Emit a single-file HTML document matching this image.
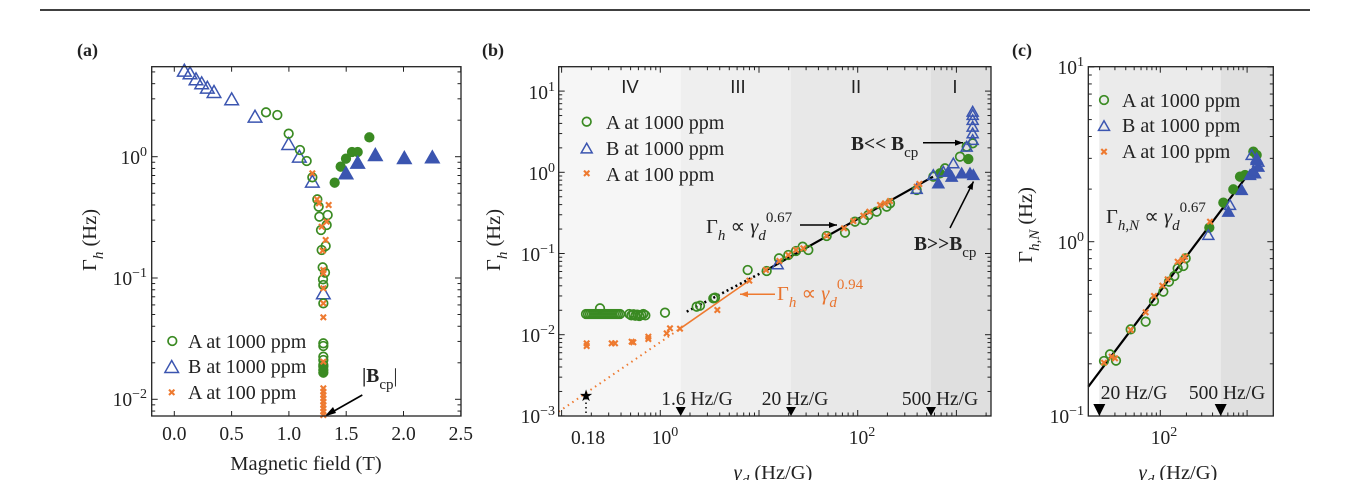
<!DOCTYPE html>
<html><head><meta charset="utf-8"><style>
html,body{margin:0;padding:0;background:#fff;}
svg{display:block;font-family:"Liberation Serif",serif;}
</style></head><body>
<svg id="s" width="1350" height="480" viewBox="0 0 1350 480" xmlns="http://www.w3.org/2000/svg">
<line x1="40" y1="10" x2="1310" y2="10" stroke="#000" stroke-width="1.5"/>
<rect x="558.7" y="66.7" width="122" height="349.3" fill="#f6f6f6"/>
<rect x="680.7" y="66.7" width="110.3" height="349.3" fill="#efefef"/>
<rect x="791" y="66.7" width="140" height="349.3" fill="#e8e8e8"/>
<rect x="931" y="66.7" width="60" height="349.3" fill="#dfdfdf"/>
<rect x="1099.3" y="66.7" width="121.4" height="349.3" fill="#ebebeb"/>
<rect x="1220.7" y="66.7" width="52.6" height="349.3" fill="#e0e0e0"/>
<g id="ticks"></g>
<g id="lines"></g>
<g id="marks"></g>
<rect x="151.7" y="66.7" width="309.3" height="349.3" fill="none" stroke="#222" stroke-width="1.3"/>
<rect x="558.7" y="66.7" width="432.3" height="349.3" fill="none" stroke="#222" stroke-width="1.3"/>
<rect x="1088.3" y="66.7" width="185" height="349.3" fill="none" stroke="#222" stroke-width="1.3"/>
<g fill="#222">
<text x="77" y="56" font-weight="bold" font-size="18">(a)</text>
<text x="482" y="56" font-weight="bold" font-size="18">(b)</text>
<text x="1012" y="56" font-weight="bold" font-size="18">(c)</text>
<g text-anchor="middle" font-size="19.5">
<text x="174.3" y="440">0.0</text><text x="231.6" y="440">0.5</text><text x="288.9" y="440">1.0</text>
<text x="346.2" y="440">1.5</text><text x="403.5" y="440">2.0</text><text x="460.8" y="440">2.5</text>
</g>
<g text-anchor="end" font-size="19.5">
<text x="147" y="164">10<tspan dy="-8" font-size="14">0</tspan></text>
<text x="147" y="285">10<tspan dy="-8" font-size="14">−1</tspan></text>
<text x="147" y="406">10<tspan dy="-8" font-size="14">−2</tspan></text>
</g>
<text x="306" y="470" text-anchor="middle" font-size="20.5">Magnetic field (T)</text>
<text transform="translate(96,240) rotate(-90)" text-anchor="middle" font-size="20.5">Γ<tspan dy="7" font-size="15" font-style="italic">h</tspan><tspan dy="-7"> (Hz)</tspan></text>
<g font-size="20"><text x="188" y="348">A at 1000 ppm</text><text x="188" y="373">B at 1000 ppm</text><text x="188" y="399">A at 100 ppm</text></g>
<text x="362" y="382" font-size="19.5"><tspan font-weight="bold">|B</tspan><tspan dy="7" font-size="15">cp</tspan><tspan dy="-7">|</tspan></text>
<g text-anchor="end" font-size="19.5">
<text x="555" y="99">10<tspan dy="-8" font-size="14">1</tspan></text>
<text x="555" y="180">10<tspan dy="-8" font-size="14">0</tspan></text>
<text x="555" y="261">10<tspan dy="-8" font-size="14">−1</tspan></text>
<text x="555" y="342">10<tspan dy="-8" font-size="14">−2</tspan></text>
<text x="555" y="423">10<tspan dy="-8" font-size="14">−3</tspan></text>
</g>
<g text-anchor="middle" font-size="19.5">
<text x="588" y="444">0.18</text>
<text x="665" y="444">10<tspan dy="-8" font-size="14">0</tspan></text>
<text x="862" y="444">10<tspan dy="-8" font-size="14">2</tspan></text>
</g>
<text x="773" y="479" text-anchor="middle" font-size="20.5"><tspan font-style="italic">γ</tspan><tspan dy="6" font-size="15" font-style="italic">d</tspan><tspan dy="-6"> (Hz/G)</tspan></text>
<text transform="translate(500,240) rotate(-90)" text-anchor="middle" font-size="20.5">Γ<tspan dy="7" font-size="15" font-style="italic">h</tspan><tspan dy="-7"> (Hz)</tspan></text>
<g font-family="Liberation Sans, sans-serif" font-size="18.5" text-anchor="middle">
<text x="630" y="93">IV</text><text x="738" y="93">III</text><text x="856" y="93">II</text><text x="955" y="93">I</text></g>
<g font-size="20"><text x="606" y="129">A at 1000 ppm</text><text x="606" y="155">B at 1000 ppm</text><text x="606" y="181">A at 100 ppm</text></g>
<g font-size="19.5" text-anchor="middle"><text x="697" y="405">1.6 Hz/G</text><text x="795" y="405">20 Hz/G</text><text x="940" y="405">500 Hz/G</text></g>
<text x="706" y="233" font-size="20.5">Γ<tspan dy="7" font-size="15" font-style="italic">h</tspan><tspan dy="-7"> ∝ </tspan><tspan font-style="italic">γ</tspan><tspan dy="7" font-size="15" font-style="italic">d</tspan><tspan dy="-18" font-size="15">0.67</tspan></text>
<text x="777" y="300" font-size="20.5" fill="#e8742f">Γ<tspan dy="7" font-size="15" font-style="italic">h</tspan><tspan dy="-7"> ∝ </tspan><tspan font-style="italic">γ</tspan><tspan dy="7" font-size="15" font-style="italic">d</tspan><tspan dy="-18" font-size="15">0.94</tspan></text>
<text x="851" y="150" font-size="19.5"><tspan font-weight="bold">B&lt;&lt; B</tspan><tspan dy="7" font-size="15">cp</tspan></text>
<text x="914" y="250" font-size="19.5"><tspan font-weight="bold">B&gt;&gt;B</tspan><tspan dy="7" font-size="15">cp</tspan></text>
<g text-anchor="end" font-size="19.5">
<text x="1084" y="74">10<tspan dy="-8" font-size="14">1</tspan></text>
<text x="1084" y="249">10<tspan dy="-8" font-size="14">0</tspan></text>
<text x="1084" y="423">10<tspan dy="-8" font-size="14">−1</tspan></text>
</g>
<text x="1164" y="444" text-anchor="middle" font-size="19.5">10<tspan dy="-8" font-size="14">2</tspan></text>
<text x="1178" y="479" text-anchor="middle" font-size="20.5"><tspan font-style="italic">γ</tspan><tspan dy="6" font-size="15" font-style="italic">d</tspan><tspan dy="-6"> (Hz/G)</tspan></text>
<text transform="translate(1032,225) rotate(-90)" text-anchor="middle" font-size="20.5">Γ<tspan dy="7" font-size="15" font-style="italic">h,N</tspan><tspan dy="-7"> (Hz)</tspan></text>
<g font-size="20"><text x="1122" y="107">A at 1000 ppm</text><text x="1122" y="132">B at 1000 ppm</text><text x="1122" y="158">A at 100 ppm</text></g>
<text x="1106" y="223" font-size="20.5">Γ<tspan dy="7" font-size="15" font-style="italic">h,N</tspan><tspan dy="-7"> ∝ </tspan><tspan font-style="italic">γ</tspan><tspan dy="7" font-size="15" font-style="italic">d</tspan><tspan dy="-18" font-size="15">0.67</tspan></text>
<g font-size="19.5" text-anchor="middle"><text x="1134" y="399">20 Hz/G</text><text x="1227" y="399">500 Hz/G</text></g>
</g>
</svg>
<script>
var NS="http://www.w3.org/2000/svg";
var G="#3a8a22",B="#3b55b0",O="#ee7a30";
function el(p,t,a){var e=document.createElementNS(NS,t);for(var k in a)e.setAttribute(k,a[k]);document.getElementById(p).appendChild(e);return e;}
function circ(x,y,f,r){r=r||4.3;el("marks","circle",{cx:x,cy:y,r:r,fill:f?G:"none",stroke:G,"stroke-width":1.7});}
function tri(x,y,f,s){s=s||6.8;el("marks","polygon",{points:(x-s)+","+(y+s*0.8)+" "+(x+s)+","+(y+s*0.8)+" "+x+","+(y-s*0.95),fill:f?B:"none",stroke:B,"stroke-width":1.5});}
function crs(x,y){var s=2.7;el("marks","path",{d:"M"+(x-s)+" "+(y-s)+"L"+(x+s)+" "+(y+s)+"M"+(x-s)+" "+(y+s)+"L"+(x+s)+" "+(y-s),stroke:O,"stroke-width":2.1});}
function ln(a){el("lines","line",a);}
function tk(x1,y1,x2,y2){el("ticks","line",{x1:x1,y1:y1,x2:x2,y2:y2,stroke:"#222","stroke-width":1});}
function Z(ox,oy,arr,fn,f){arr.forEach(function(p){fn(p[0]/3+ox,p[1]/3+oy,f);});}
[174.3,231.6,288.9,346.2,403.5,460.8].forEach(function(x){tk(x,416,x,411);tk(x,66.7,x,71.7);});
function logticks(L,R,y0,dec,nmin,nmax){for(var d=nmin;d<=nmax;d++)for(var m=1;m<10;m++){var y=y0-(d+Math.log10(m))*dec;if(y<66.5||y>416.2)continue;var l=m==1?6:3.5;tk(L,y,L+l,y);tk(R,y,R-l,y);}}
logticks(151.7,461,156.7,121.3,-3,1);
logticks(558.7,991,172.3,81.2,-3,1);
logticks(1088.3,1273.3,241.7,174.7,-1,1);
for(var d=-1;d<=3;d++)for(var m=1;m<10;m++){var x=660.3+(d+Math.log10(m))*98.7;if(x<559||x>991)continue;var l=m==1?6:3.5;tk(x,416,x,416-l);tk(x,66.7,x,66.7+l);}
for(var d=1;d<=3;d++)for(var m=1;m<10;m++){var x=1160.3+(d-2+Math.log10(m))*86.8;if(x<1088.5||x>1273)continue;var l=m==1?6:3.5;tk(x,416,x,416-l);tk(x,66.7,x,66.7+l);}
Z(60,40,[[373,92],[390,100],[408,118],[425,130],[442,143],[462,156],[515,178],[585,230],[686,312],[718,350],[757,425],[790,760]],tri,false);
Z(60,40,[[618,217],[652,225],[686,281],[720,330],[740,363],[757,412],[772,478],[776,500],[778,530],[803,525],[800,555],[783,570],[785,630],[797,618],[788,682],[795,698],[789,718],[790,735],[790,790],[790,910],[790,918],[790,950],[790,960],[790,975]],circ,false);
Z(60,40,[[824,428],[842,380],[858,356],[876,336],[893,336],[928,292],[790,980],[790,990],[790,998]],circ,true);
Z(60,40,[[858,400],[893,368],[946,345],[1033,354],[1117,352]],tri,true);
Z(60,40,[[757,400],[771,478],[777,490],[806,495],[800,545],[785,560],[797,600],[788,632],[790,690],[790,700],[790,745],[790,790],[790,832],[790,965],[790,1045],[790,1055],[790,1065],[790,1075],[790,1085],[790,1095],[790,1105],[790,1115],[790,1125]],crs);
circ(172.3,341);tri(171.7,367);crs(171.7,392.3);
el("lines","path",{d:"M362.3 395L327 415",stroke:"#000","stroke-width":1.6,fill:"none"});
el("lines","path",{d:"M324.5 416.5L333 407L336 413Z",fill:"#000"});
ln({x1:558.7,y1:411.7,x2:680,y2:328.7,stroke:O,"stroke-width":2,"stroke-dasharray":"1.5 4"});
ln({x1:680,y1:328.7,x2:750,y2:280,stroke:O,"stroke-width":1.6});
ln({x1:686.7,y1:311.7,x2:766.7,y2:270,stroke:"#000","stroke-width":2.5,"stroke-dasharray":"2 3"});
ln({x1:766.7,y1:270,x2:933,y2:176.7,stroke:"#000","stroke-width":2.2});
ln({x1:586,y1:398,x2:586,y2:416,stroke:"#000","stroke-width":1.5,"stroke-dasharray":"1.5 3"});
el("marks","text",{x:586,y:401,"text-anchor":"middle","font-size":"16"}).textContent="★";
var ivc=[];for(var x=318;x<=420;x+=6)ivc.push([x,825+((x*7)%7)-3]);for(var x=448;x<=500;x+=6)ivc.push([x,825+((x*3)%7)-3]);
ivc.push([360,805],[555,818]);
Z(480,40,ivc,function(x,y){circ(x,y,false);});
Z(480,40,[[650,800],[660,797],[700,775],[705,773],[803,690],[860,693],[897,655],[925,645],[948,633],[968,620],[985,630],[1040,588],[1095,578],[1125,545],[1152,540],[1165,525],[1190,515],[1220,500],[1230,490],[1310,450],[1360,410],[1395,385],[1440,350],[1460,320],[1478,310]],circ,false);
Z(480,40,[[1465,357],[1380,400]],circ,true);
Z(480,40,[[893,673],[1310,447],[1360,405],[1390,395],[1420,370],[1460,320],[1478,300],[1478,280],[1478,260],[1478,240],[1478,225],[1478,215]],function(x,y){tri(x,y,false,5.5);});
Z(480,40,[[1375,430],[1415,410],[1445,400],[1470,400],[1480,405],[1405,395]],function(x,y){tri(x,y,true,5.5);});
Z(480,40,[[320,910],[320,918],[395,910],[405,910],[455,905],[460,907],[505,890],[505,897],[560,880],[570,865],[600,866],[712,810],[808,722],[858,690],[898,663],[925,645],[948,630],[970,625],[1040,587],[1092,565],[1120,543],[1150,527],[1168,515],[1200,495],[1215,490],[1230,483],[1310,440],[1318,432]],crs);
circ(586.7,121.7);tri(586.7,148.5,false,5.5);crs(586.7,173.3);
function arrow(x1,y1,x2,y2,c){el("lines","line",{x1:x1,y1:y1,x2:x2,y2:y2,stroke:c,"stroke-width":1.5});var a=Math.atan2(y2-y1,x2-x1),L=8,w=3;el("lines","polygon",{points:x2+","+y2+" "+(x2-L*Math.cos(a)+w*Math.sin(a))+","+(y2-L*Math.sin(a)-w*Math.cos(a))+" "+(x2-L*Math.cos(a)-w*Math.sin(a))+","+(y2-L*Math.sin(a)+w*Math.cos(a)),fill:c});}
arrow(800,225,837,225,"#000");arrow(775,294.3,740,294.3,O);arrow(923,142.7,963,142.7,"#000");arrow(950,228,973.5,181.5,"#000");
[680.7,791,931].forEach(function(x){el("marks","polygon",{points:(x-5)+",407 "+(x+5)+",407 "+x+",416",fill:"#000"});});
ln({x1:1088.3,y1:386.7,x2:1253,y2:168,stroke:"#000","stroke-width":2.2});
Z(1000,40,[[312,963],[330,943],[348,962],[392,868],[437,845],[462,783],[490,755],[507,725],[523,708],[533,685],[550,678],[557,655]],circ,false);
Z(1000,40,[[628,563],[670,488],[700,448],[720,410],[735,405],[760,335],[770,345]],circ,true);
Z(1000,40,[[625,585],[690,495],[755,345],[770,355],[775,365]],function(x,y){tri(x,y,false,5.5);});
Z(1000,40,[[685,515],[725,450],[750,405],[765,400],[775,380],[770,360],[760,395]],function(x,y){tri(x,y,true,5.5);});
Z(1000,40,[[312,968],[335,950],[345,955],[392,870],[437,817],[462,768],[487,737],[503,718],[533,665],[548,660],[555,650],[630,545]],crs);
circ(1104,100);tri(1104,126,false,5.5);crs(1104,151.7);
[1099.3,1220.7].forEach(function(x){el("marks","polygon",{points:(x-6)+",404 "+(x+6)+",404 "+x+",416",fill:"#000"});});
</script>
</body></html>
